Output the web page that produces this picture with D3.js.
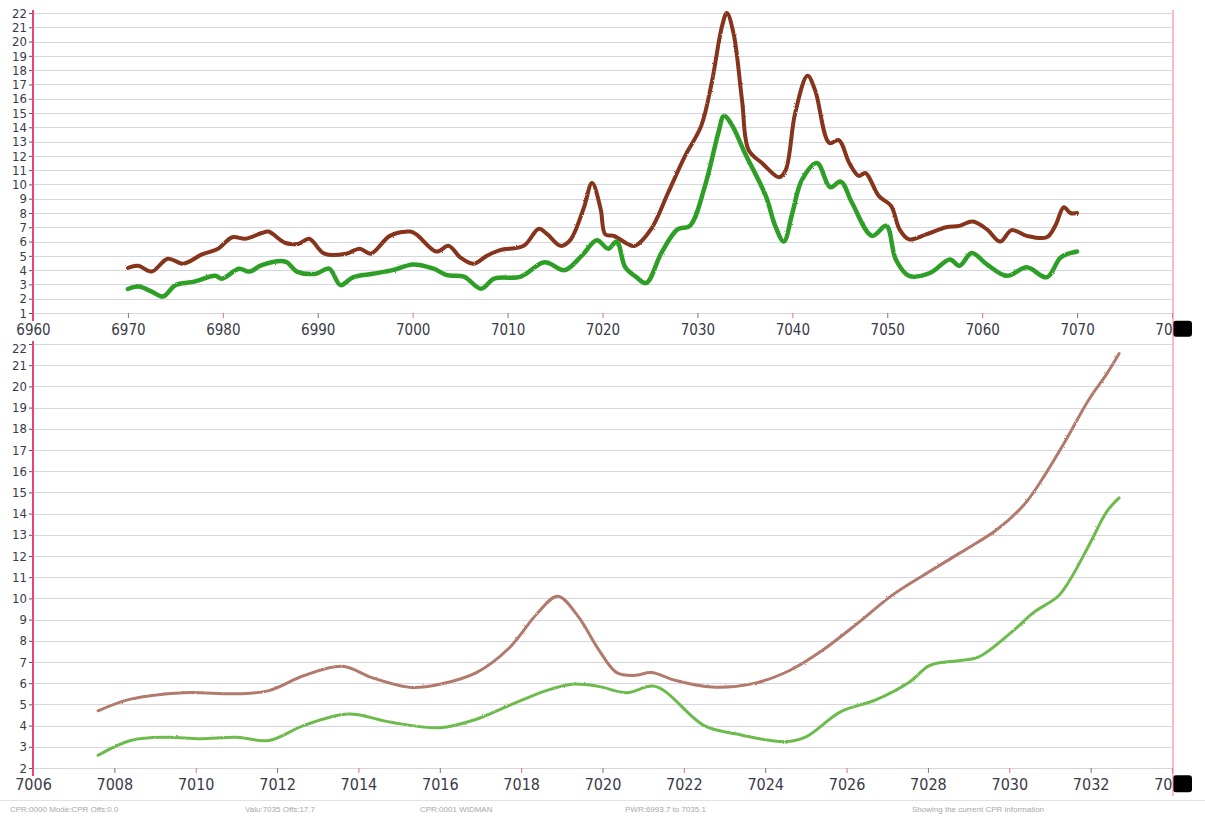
<!DOCTYPE html>
<html>
<head>
<meta charset="utf-8">
<script src="https://cdn.jsdelivr.net/npm/d3@7"></script>
<style>
  body { margin: 0; background: #fff; }
  svg { display: block; }
  .tick text { font-family: "Liberation Sans Narrow", "DejaVu Sans Condensed", "Liberation Sans", sans-serif; fill: #3a3a48; }
</style>
</head>
<body>
<div id="graph"></div>
<script>
"use strict"

// top panel: full scan, 6960 - 7080
var topTicksX = [6960, 6970, 6980, 6990, 7000, 7010, 7020, 7030, 7040, 7050, 7060, 7070, 7080]
var topTicksY = d3.range(1, 23)

var topRedX = [6970, 6971.1, 6972.5, 6974.2, 6975.8, 6977.8, 6979.5, 6981, 6982.4, 6984.1, 6984.8, 6986.6, 6988, 6989.1,
  6990.7, 6993, 6994.4, 6995.6, 6997.6, 6999.7, 7000.4, 7002.5, 7003.8, 7005, 7006.4, 7007.8, 7009.2, 7011.7, 7013.3,
  7014.2, 7015.6, 7016.6, 7018, 7018.9, 7019.8, 7020.3, 7021.2, 7022.6, 7023.4, 7025.1, 7026.9, 7028.7, 7030.4, 7031.5,
  7032.6, 7033.1, 7033.8, 7034.7, 7035.4, 7036.8, 7038.6, 7039.3, 7040.3, 7041.6, 7042.4, 7043.9, 7044.9, 7046, 7047,
  7047.7, 7049.1, 7050.4, 7051.3, 7052.3, 7054.1, 7056.2, 7057.6, 7059, 7060.5, 7061.9, 7063.1, 7064.7, 7066.8, 7067.7,
  7068.6, 7069.3, 7070]
var topRedY = [4.16, 4.3, 3.9, 4.8, 4.45, 5.1, 5.5, 6.3, 6.2, 6.6, 6.7, 5.9, 5.85, 6.2,
  5.15, 5.15, 5.5, 5.15, 6.4, 6.7, 6.5, 5.3, 5.7, 4.9, 4.45, 5.0, 5.4, 5.7, 6.9,
  6.5, 5.7, 6.1, 8.3, 10.1, 8.3, 6.5, 6.4, 5.85, 5.7, 6.85, 9.4, 12, 14.1, 17.1,
  21.1, 22, 20.6, 15.9, 12.4, 11.5, 10.5, 11.0, 15, 17.6, 16.6, 12.9, 13.1, 11.5, 10.6,
  10.8, 9.2, 8.5, 6.85, 6.15, 6.5, 7.0, 7.1, 7.4, 6.85, 6.0, 6.8, 6.4, 6.3, 7.1,
  8.4, 8.0, 8.0]

var topGreenX = [6970, 6971.1, 6972.5, 6973.7, 6975, 6977, 6979.2, 6979.9, 6981.7, 6982.8, 6984.1, 6986.6, 6987.8, 6989.8,
  6991.2, 6992.4, 6993.7, 6995.8, 6997.9, 7000, 7002.2, 7003.6, 7005.4, 7007.2, 7008.6, 7011.4, 7013.9, 7016, 7017.8,
  7019.4, 7020.6, 7021.5, 7022.4, 7023.5, 7024.6, 7026.2, 7027.9, 7029.2, 7030.8, 7032.2, 7032.8, 7033.6, 7035, 7037.2,
  7038.2, 7039.1, 7040, 7041, 7042.6, 7044, 7045.1, 7046.3, 7048.4, 7049.9, 7050.9, 7052.3, 7054.5, 7056.6, 7057.6,
  7058.9, 7060.5, 7062.6, 7064.7, 7066.8, 7068.3, 7070]
var topGreenY = [2.68, 2.85, 2.5, 2.15, 2.95, 3.2, 3.6, 3.4, 4.1, 3.9, 4.35, 4.6, 3.9, 3.75,
  4.1, 2.95, 3.5, 3.75, 4.0, 4.4, 4.1, 3.65, 3.55, 2.7, 3.4, 3.55, 4.55, 4.0, 5.0,
  6.1, 5.5, 6.0, 4.2, 3.55, 3.1, 5.2, 6.85, 7.1, 9.9, 13.6, 14.8, 14.2, 12.2, 9.2,
  7.1, 6.0, 8.0, 10.3, 11.5, 9.8, 10.2, 8.7, 6.4, 7.1, 4.75, 3.6, 3.8, 4.75, 4.3,
  5.2, 4.4, 3.6, 4.2, 3.5, 4.9, 5.3]

// bottom panel: zoom on 7006 - 7034
var botTicksX = [7006, 7008, 7010, 7012, 7014, 7016, 7018, 7020, 7022, 7024, 7026, 7028, 7030, 7032, 7034]
var botTicksY = d3.range(2, 23)

var botRedX = [7007.6, 7008.4, 7009.7, 7011.0, 7011.8, 7012.65, 7013.6, 7014.35, 7015.3, 7016.0, 7016.9, 7017.7, 7018.4,
  7018.9, 7019.4, 7019.9, 7020.35, 7020.8, 7021.2, 7021.8, 7022.7, 7023.7, 7024.6, 7025.4, 7026.3, 7027.1, 7028.0,
  7028.8, 7029.7, 7030.4, 7030.9, 7031.4, 7031.95, 7032.4, 7032.7]
var botRedY = [4.7, 5.25, 5.55, 5.5, 5.65, 6.35, 6.8, 6.25, 5.8, 5.95, 6.5, 7.65, 9.3,
  10.1, 9.15, 7.6, 6.5, 6.37, 6.5, 6.13, 5.82, 5.98, 6.6, 7.54, 8.87, 10.12, 11.22,
  12.16, 13.25, 14.5, 15.9, 17.5, 19.36, 20.6, 21.55]

var botGreenX = [7007.6, 7008.4, 7009.3, 7010.1, 7011.0, 7011.8, 7012.65, 7013.75, 7014.8, 7016.0, 7016.9, 7017.7, 7018.6,
  7019.25, 7019.9, 7020.6, 7021.3, 7022.5, 7023.3, 7024.5, 7025.0, 7025.85, 7026.7, 7027.55, 7028.05, 7028.8, 7029.24,
  7030.1, 7030.6, 7031.2, 7031.5, 7031.95, 7032.4, 7032.7]
var botGreenY = [2.6, 3.3, 3.45, 3.38, 3.45, 3.3, 4.0, 4.55, 4.16, 3.9, 4.3, 4.94, 5.64,
  5.95, 5.85, 5.55, 5.85, 4.0, 3.6, 3.24, 3.47, 4.65, 5.2, 6.06, 6.84, 7.07, 7.23,
  8.48, 9.34, 10.1, 10.9, 12.47, 14.1, 14.74]

var statusTexts = ["CPR:0000  Mode:CPR  Offs:0.0", "Valu:7035  Offs:17.7", "CPR:0001  WIDMAN",
  "PWR:6993.7 to 7035.1", "Showing the current CPR information"]

var width = 1205, height = 816
var svg = d3.select("#graph").append("svg").attr("width", width).attr("height", height)

function zip(xs, ys) { return xs.map(function(x, i) { return [x, ys[i]] }) }

function drawPanel(opt) {
  var x = d3.scaleLinear().domain(opt.xDomain).range([33, 1172])
  var y = d3.scaleLinear().domain(opt.yDomain).range(opt.yRange)
  var g = svg.append("g")

  // horizontal grid
  g.selectAll(".grid").data(opt.yTicks).enter().append("line")
    .attr("x1", 33).attr("x2", 1172)
    .attr("y1", function(d) { return Math.round(y(d)) + 0.5 })
    .attr("y2", function(d) { return Math.round(y(d)) + 0.5 })
    .attr("stroke", "#d6d6e2").attr("stroke-width", 1.2)

  // y axis
  var ya = g.append("g").attr("transform", "translate(33,0)")
    .call(d3.axisLeft(y).tickValues(opt.yTicks).tickSize(4).tickPadding(2).tickFormat(d3.format("d")))
  ya.select(".domain").remove()
  ya.selectAll(".tick line").attr("stroke", "#555")
  ya.selectAll(".tick text").style("font-size", "13px")
  // top label sits half under the panel above
  ya.selectAll(".tick text").filter(function(d) { return d === opt.yDomain[1] })
    .attr("dy", "0.32em").attr("y", opt.topLabelShift)

  // x axis
  var xa = g.append("g").attr("transform", "translate(0," + opt.xAxisY + ")")
    .call(d3.axisBottom(x).tickValues(opt.xTicks).tickSize(5).tickPadding(opt.xPad).tickFormat(d3.format("d")))
  xa.select(".domain").remove()
  xa.selectAll(".tick line").attr("stroke", function(d, i) { return i % 2 ? "#777" : "#e07090" })
  xa.selectAll(".tick text").style("font-size", opt.xFont + "px")

  // black blob hiding the last label's digits
  var last = opt.xTicks[opt.xTicks.length - 1]
  var base = opt.xAxisY + 5 + opt.xPad + 0.71 * opt.xFont
  g.append("rect")
    .attr("x", x(last) + 1).attr("y", base - opt.xFont + 1)
    .attr("width", 19).attr("height", opt.xFont + 1).attr("rx", 3)
    .attr("fill", "#000")

  // left and right red lines
  g.append("line").attr("x1", 33).attr("x2", 33)
    .attr("y1", opt.yRange[1] - 3).attr("y2", opt.xAxisY + 8)
    .attr("stroke", "#e6457a").attr("stroke-width", 2)
  g.append("line").attr("x1", 1173).attr("x2", 1173)
    .attr("y1", opt.yRange[1] - 3).attr("y2", opt.xAxisY + 28)
    .attr("stroke", "#f07a8a").attr("stroke-width", 1)

  var line = d3.line()
    .x(function(d) { return x(d[0]) })
    .y(function(d) { return y(d[1]) })
    .curve(d3.curveCatmullRom.alpha(0.5))

  opt.series.forEach(function(s) {
    g.append("path")
      .datum(s.data)
      .attr("d", line)
      .attr("fill", "none")
      .attr("stroke", s.color)
      .attr("stroke-width", s.width)
      .attr("stroke-linejoin", "round")
      .attr("stroke-linecap", "round")
      .attr("filter", "url(#rough)")
  })
}

// slight roughness so the traces look like the scanned ones
var defs = svg.append("defs")
var f = defs.append("filter").attr("id", "rough").attr("x", "-5%").attr("y", "-5%").attr("width", "110%").attr("height", "110%")
f.append("feTurbulence").attr("type", "fractalNoise").attr("baseFrequency", 0.9).attr("numOctaves", 1).attr("result", "n")
f.append("feDisplacementMap").attr("in", "SourceGraphic").attr("in2", "n").attr("scale", 2.2)

drawPanel({
  xDomain: [6960, 7080], yDomain: [1, 22], yRange: [313, 13], xAxisY: 313, xPad: 6, xFont: 15,
  topLabelShift: 0,
  xTicks: topTicksX, yTicks: topTicksY,
  series: [
    {data: zip(topRedX, topRedY), color: "#86341a", width: 4},
    {data: zip(topGreenX, topGreenY), color: "#2f9f25", width: 4.5}
  ]
})

drawPanel({
  xDomain: [7006, 7034], yDomain: [2, 22], yRange: [768, 344], xAxisY: 768, xPad: 6, xFont: 16,
  topLabelShift: 4,
  xTicks: botTicksX, yTicks: botTicksY,
  series: [
    {data: zip(botRedX, botRedY), color: "#b27a6c", width: 3},
    {data: zip(botGreenX, botGreenY), color: "#6dbb4d", width: 3}
  ]
})

// status bar
svg.append("line").attr("x1", 0).attr("x2", width).attr("y1", 800.5).attr("y2", 800.5)
  .attr("stroke", "#e2e2e2")
var statusX = [10, 245, 420, 625, 912]
svg.selectAll(".status").data(statusTexts).enter().append("text")
  .attr("x", function(d, i) { return statusX[i] })
  .attr("y", 812)
  .attr("font-family", "Liberation Sans, sans-serif")
  .attr("font-size", 8)
  .attr("fill", "#a8a8a8")
  .text(function(d) { return d })
</script>
</body>
</html>
